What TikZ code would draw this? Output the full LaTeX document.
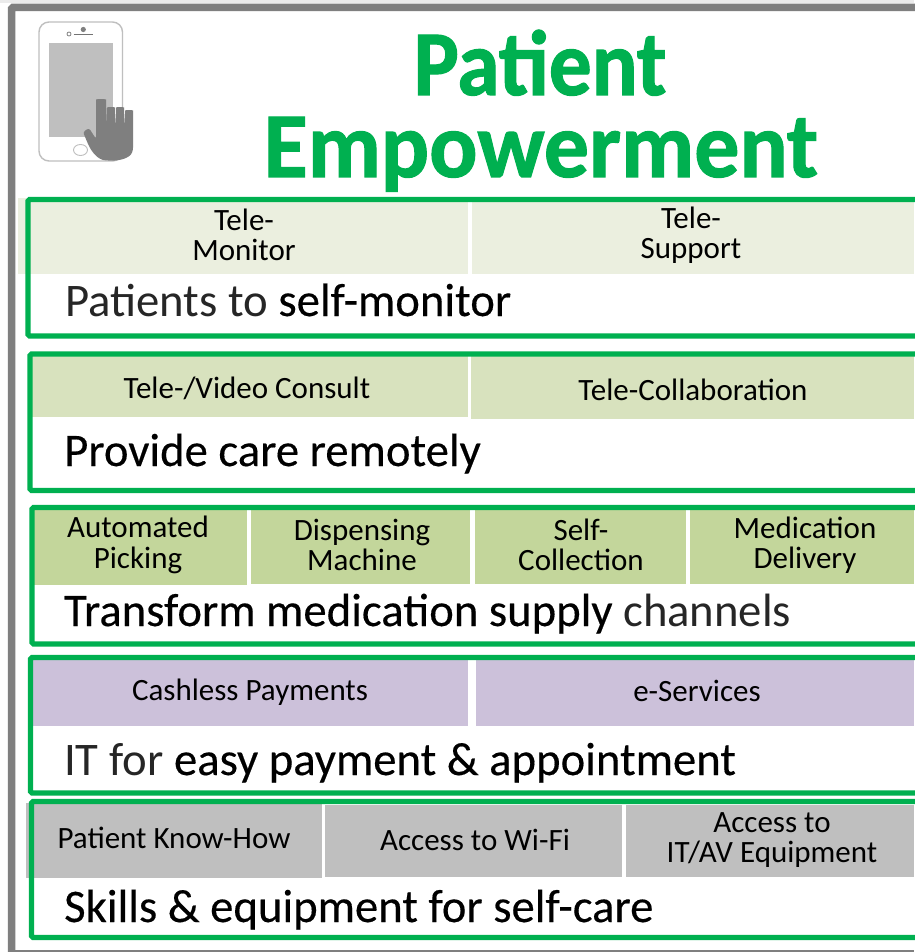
\documentclass[tikz,border=0pt]{standalone}
\usepackage{fontspec}
\setmainfont{Carlito}
\newfontfamily\ttlfont{Carlito Bold}[FakeBold=1.2]
\newfontfamily\heavyfont{Carlito}[FakeBold=0.3]
\definecolor{gbox}{HTML}{00B050}
\definecolor{rowa}{HTML}{EBEFDF}
\definecolor{rowb}{HTML}{D8E2BE}
\definecolor{rowc}{HTML}{C3D69B}
\definecolor{rowd}{HTML}{CCC1DA}
\definecolor{rowe}{HTML}{BFBFBF}
\definecolor{fr}{HTML}{7F7F7F}
\tikzset{
  x=1pt,y=-1pt,
  celltxt/.style={inner sep=0pt,align=center,font=\fontsize{31}{30.5}\selectfont,text=black},
  maintxt/.style={inner sep=0pt,anchor=base west,font=\fontsize{46.7}{50}\heavyfont,text=black},
  titletxt/.style={inner sep=0pt,anchor=base,font=\fontsize{90}{90}\ttlfont,text=gbox,yscale=1.03},
  greenbox/.style={draw=gbox,line width=5.2pt,rounded corners=1.5pt},
}
\newcommand{\litetxt}[1]{\textcolor{black!85}{\normalfont\fontsize{46.7}{50}\selectfont #1}}
\begin{document}
\begin{tikzpicture}
\useasboundingbox (0,0) rectangle (914,952);
\fill[white] (0,0) rectangle (914,952);
\fill[black!8] (0,0) rectangle (914,3);
% page frame
\draw[fr,line width=7.5pt,rounded corners=1.5pt] (930,7.5) -- (11.5,7.5) -- (11.5,953);
\fill[fr] (11,950) rectangle (914,952);
% phone icon
\draw[black!25,line width=1.4pt,rounded corners=10pt] (39,22) rectangle (122.5,161);
\fill[rowe] (48.5,43) rectangle (112.5,137.5);
\draw[black!55,line width=0.9pt] (73.5,34) -- (93,34);
\fill[black!50] (83.3,29.5) circle (2.6);
\draw[black!50,line width=0.8pt] (69,34) circle (2);
\draw[black!25,line width=0.9pt] (80.5,150) ellipse (7 and 5.5);
% hand
\fill[fr,rounded corners=2.5pt] (83,132) -- (89,128) -- (96,139) -- (96,102) .. controls (96,99) and (106,99) .. (106,102) -- (107,127) -- (107,110) .. controls (107,107) and (115,107) .. (115,110) -- (116,127) -- (116,110) .. controls (116,107) and (124,107) .. (124,110) -- (125,127) -- (125,113) .. controls (125,110) and (133,110) .. (133,113) -- (133,150) .. controls (130,158) and (120,161) .. (108,160.5) .. controls (98,160) and (92,152) .. (88,144) -- cycle;
% title
\node[titletxt,xscale=.95] (t1) at (540,95) {Patient};
\node[titletxt] (t2) at (541,177) {Empowerment};
% row 1
\fill[rowa] (18,198) rectangle (468,274);
\fill[rowa] (472,198) rectangle (914,274);
\node[celltxt] (a1) at (244,235) {Tele-\\Monitor};
\node[celltxt] (a2) at (691,235) {Tele-\\Support};
\draw[greenbox] (930,199.5) -- (28,199.5) -- (28,336) -- (930,336);
\node[maintxt] (am) at (65,316) {\litetxt{Patients to} self-monitor};
% row 2
\fill[rowb] (30,355) rectangle (468,417);
\fill[rowb] (471,355) rectangle (914,419);
\node[celltxt] (b1) at (247,388) {Tele-/Video Consult};
\node[celltxt] (b2) at (693,390) {Tele-Collaboration};
\draw[greenbox] (930,354) -- (30,354) -- (30,490.5) -- (930,490.5);
\node[maintxt] (bm) at (64,466) {Provide care remotely};
% row 3
\fill[rowc] (33,509) rectangle (247,585);
\fill[rowc] (251,509) rectangle (470,584);
\fill[rowc] (475,509) rectangle (686,584);
\fill[rowc] (690,509) rectangle (914,584);
\node[celltxt] (c1) at (138,545) {Automated\\Picking};
\node[celltxt] (c2) at (362,545) {Dispensing\\Machine};
\node[celltxt] (c3) at (581,545) {Self-\\Collection};
\node[celltxt] (c4) at (805,545) {Medication\\Delivery};
\draw[greenbox] (930,507.5) -- (32,507.5) -- (32,644) -- (930,644);
\node[maintxt] (cm) at (64,626) {Transform medication supply \litetxt{channels}};
% row 4
\fill[rowd] (33,659) rectangle (468,726);
\fill[rowd] (476,659) rectangle (914,726);
\node[celltxt] (d1) at (250,692) {Cashless Payments};
\node[celltxt] (d2) at (697,691) {e-Services};
\draw[greenbox] (930,657.5) -- (30.5,657.5) -- (30.5,793) -- (930,793);
\node[maintxt] (dm) at (64,775) {\litetxt{IT for} easy payment \& appointment};
% row 5
\fill[rowe] (26,803) rectangle (322,878);
\fill[rowe] (325,805) rectangle (622,877);
\fill[rowe] (626,805) rectangle (914,877);
\node[celltxt] (e1) at (174,838) {Patient Know-How};
\node[celltxt] (e2) at (475,840) {Access to Wi-Fi};
\node[celltxt] (e3) at (772,840) {Access to\\IT/AV Equipment};
\draw[greenbox] (930,801.5) -- (31.5,801.5) -- (31.5,937.5) -- (930,937.5);
\node[maintxt] (em) at (64,922) {Skills \& equipment for self-care};
\end{tikzpicture}
\end{document}
